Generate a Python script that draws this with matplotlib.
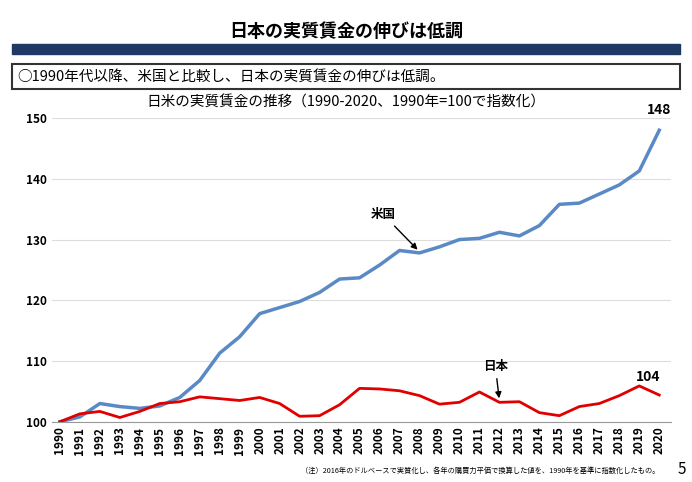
import matplotlib
matplotlib.use("Agg")
import matplotlib.pyplot as plt
from matplotlib.patches import Rectangle

plt.rcParams['font.family'] = ['Noto Sans CJK JP', 'DejaVu Sans']

years = list(range(1990, 2021))
us = [100, 100.8, 103, 102.5, 102.2, 102.6, 104, 106.8, 111.3, 114, 117.8,
      118.8, 119.8, 121.3, 123.5, 123.7, 125.8, 128.2, 127.8, 128.8, 130,
      130.2, 131.2, 130.6, 132.3, 135.8, 136, 137.5, 139, 141.3, 148]
jp = [100, 101.3, 101.7, 100.7, 101.7, 103, 103.3, 104.1, 103.8, 103.5, 104,
      103, 100.9, 101, 102.8, 105.5, 105.4, 105.1, 104.3, 102.9, 103.2,
      104.9, 103.2, 103.3, 101.5, 101, 102.5, 103, 104.3, 105.9, 104.4]

fig = plt.figure(figsize=(6.92, 4.82), dpi=100)

fig.text(0.5, 0.935, "日本の実質賃金の伸びは低調", ha="center", va="center",
         fontsize=13, fontweight="bold")
fig.patches.append(Rectangle((0.017, 0.887), 0.966, 0.022, transform=fig.transFigure,
                             color="#1f3864"))
fig.patches.append(Rectangle((0.017, 0.815), 0.966, 0.052, transform=fig.transFigure,
                             facecolor="white", edgecolor="#333333", lw=1.5))
fig.text(0.025, 0.841, "○1990年代以降、米国と比較し、日本の実質賃金の伸びは低調。",
         ha="left", va="center", fontsize=10.5)
fig.text(0.5, 0.787, "日米の実質賃金の推移（1990-2020、1990年=100で指数化）",
         ha="center", va="center", fontsize=10.5)

ax = fig.add_axes([0.075, 0.125, 0.895, 0.63])
ax.plot(years, us, color="#5a8ac6", lw=2.5)
ax.plot(years, jp, color="#e00000", lw=2)
ax.set_ylim(100, 150)
ax.set_xlim(1989.6, 2020.6)
ax.set_yticks(range(100, 151, 10))
ax.set_xticks(years)
ax.set_xticklabels([str(y) for y in years], rotation=90, fontweight="bold", fontsize=8.5)
for t in ax.get_yticklabels():
    t.set_fontweight("bold")
    t.set_fontsize(8.5)
ax.grid(axis="y", color="#dddddd", lw=0.8)
for s in ["top", "right", "left"]:
    ax.spines[s].set_visible(False)
ax.spines["bottom"].set_color("#999999")
ax.tick_params(length=0)
ax.set_axisbelow(True)

ax.annotate("148", (years[-1], us[-1]), xytext=(0, 12), textcoords="offset points",
            ha="center", fontsize=10, fontweight="bold")
ax.annotate("104", (years[-1], jp[-1]), xytext=(-8, 10), textcoords="offset points",
            ha="center", fontsize=10, fontweight="bold")
ax.annotate("米国", (2008, 128), xytext=(2006.2, 133.5), fontsize=9, fontweight="bold",
            ha="center", arrowprops=dict(arrowstyle="-|>", color="black", lw=1))
ax.annotate("日本", (2012, 103.4), xytext=(2011.8, 108.5), fontsize=9, fontweight="bold",
            ha="center", arrowprops=dict(arrowstyle="-|>", color="black", lw=1))

fig.text(0.435, 0.015, "（注）2016年のドルベースで実質化し、各年の購買力平価で換算した値を、1990年を基準に指数化したもの。",
         fontsize=5.2, ha="left", va="bottom")
fig.text(0.992, 0.008, "5", fontsize=11, ha="right", va="bottom")

fig.savefig("out.png")
